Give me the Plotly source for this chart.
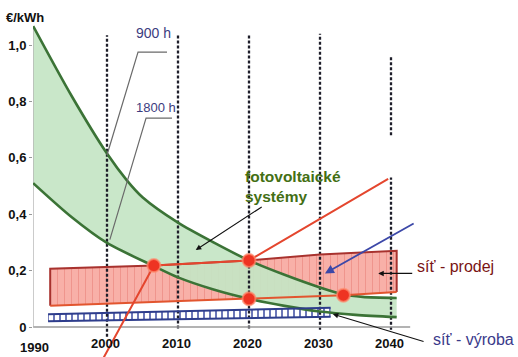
import plotly.graph_objects as go

# ---------------- data ----------------
years_900 = [1989.6, 1995, 2000, 2002.8, 2005, 2010, 2015, 2020, 2025, 2030, 2033.3, 2036, 2040.8]
cost_900 = [1.067, 0.82, 0.615, 0.52, 0.46, 0.37, 0.30, 0.236, 0.185, 0.14, 0.115, 0.107, 0.103]

years_1800 = [1989.6, 1995, 2000, 2006.6, 2010, 2015, 2020, 2025, 2030, 2035, 2040.8]
cost_1800 = [0.51, 0.39, 0.298, 0.216, 0.176, 0.133, 0.10, 0.075, 0.055, 0.043, 0.035]

sell_years_top = [1992.0, 2006.6, 2020, 2030, 2040.8]
sell_top = [0.207, 0.218, 0.236, 0.257, 0.27]
sell_years_bot = [1992.0, 2020, 2033.3, 2040.8]
sell_bot = [0.075, 0.10, 0.113, 0.124]

prod_years = [1991.7, 2020, 2031.5]
prod_top = [0.045, 0.062, 0.068]
prod_bot = [0.02, 0.032, 0.036]

parity_years = [1999.5, 2006.6, 2020, 2039.6]
parity_vals = [-0.11, 0.218, 0.236, 0.525]

dot_years = [2006.6, 2020, 2020, 2033.3]
dot_vals = [0.218, 0.236, 0.10, 0.113]

decade_years = [2000, 2010, 2020, 2030, 2040]
x_tick_vals = [1990, 2000, 2010, 2020, 2030, 2040]
x_tick_labels = ["1990", "2000", "2010", "2020", "2030", "2040"]
y_tick_vals = [0, 0.2, 0.4, 0.6, 0.8, 1.0]
y_tick_labels = ["0", "0,2", "0,4", "0,6", "0,8", "1,0"]

# ---------------- styling ----------------
FONT = "Liberation Sans, Arial, sans-serif"
PX_PER_YEAR = 7.1
X0 = 1990 - 3 / PX_PER_YEAR
X1 = X0 + 485 / PX_PER_YEAR
Y0 = -30 / 282
Y1 = 327 / 282

fig = go.Figure()

# red band (síť - prodej) fill
band_x = sell_years_top + sell_years_bot[::-1]
band_y = sell_top + sell_bot[::-1]
fig.add_trace(go.Scatter(
    x=band_x, y=band_y, mode="lines", fill="toself", line=dict(width=0),
    fillcolor="#f7aba3",
    fillpattern=dict(shape="|", bgcolor="#f8b0a8", fgcolor="#ef948c", size=7, solidity=0.14),
    hoverinfo="skip"))

# green band (photovoltaics)
fig.add_trace(go.Scatter(x=years_1800, y=cost_1800, mode="lines",
                         line=dict(width=0, shape="spline", smoothing=0.8), hoverinfo="skip"))
fig.add_trace(go.Scatter(x=years_900, y=cost_900, mode="lines", fill="tonexty",
                         fillcolor="rgba(196,229,196,0.92)",
                         line=dict(width=0, shape="spline", smoothing=0.8), hoverinfo="skip"))

# blue band (síť - výroba)
fig.add_trace(go.Scatter(
    x=prod_years + prod_years[::-1], y=prod_top + prod_bot[::-1], mode="lines",
    fill="toself", line=dict(width=0), fillcolor="white",
    fillpattern=dict(shape="|", bgcolor="white", fgcolor="#3a4aa0", size=6, solidity=0.25),
    hoverinfo="skip"))

# vertical dotted lines
v_top = [1.035, 1.035, 1.035, 1.04, 0.957]
v_bot = [-0.035, -0.005, -0.005, -0.01, -0.01]
vx, vy = [], []
for yr, t, b in zip(decade_years, v_top, v_bot):
    if yr == 2040:
        vx += [yr, yr, None, yr, yr, None]
        vy += [b, 0.53, None, 0.68, t, None]
    else:
        vx += [yr, yr, None]
        vy += [b, t, None]
fig.add_trace(go.Scatter(x=vx, y=vy, mode="lines",
                         line=dict(color="#1e1e2a", width=2.3, dash="3px,2px"), hoverinfo="skip"))

# axis lines
fig.add_trace(go.Scatter(x=[1989.6, 2042.7], y=[0, 0], mode="lines",
                         line=dict(color="#9a9a9a", width=1.5), hoverinfo="skip"))
fig.add_trace(go.Scatter(x=[1989.6, 1989.6], y=[0, 1.06], mode="lines",
                         line=dict(color="#b0b0b0", width=1), hoverinfo="skip"))

# green curves
fig.add_trace(go.Scatter(x=years_900, y=cost_900, mode="lines",
                         line=dict(color="#3b7336", width=2.6, shape="spline", smoothing=0.8)))
fig.add_trace(go.Scatter(x=years_1800, y=cost_1800, mode="lines",
                         line=dict(color="#3b7336", width=2.6, shape="spline", smoothing=0.8)))

# red band edges
fig.add_trace(go.Scatter(x=[sell_years_top[0]] + sell_years_top + [sell_years_bot[-1]],
                         y=[sell_bot[0]] + sell_top + [sell_bot[-1]], mode="lines",
                         line=dict(color="#a8322e", width=2), hoverinfo="skip"))
fig.add_trace(go.Scatter(x=sell_years_bot, y=sell_bot, mode="lines",
                         line=dict(color="#e2552f", width=2), hoverinfo="skip"))

# blue band edges
fig.add_trace(go.Scatter(x=prod_years, y=prod_top, mode="lines",
                         line=dict(color="#2e3d8c", width=2), hoverinfo="skip"))
fig.add_trace(go.Scatter(x=prod_years, y=prod_bot, mode="lines",
                         line=dict(color="#2e3d8c", width=2), hoverinfo="skip"))

# parity line
fig.add_trace(go.Scatter(x=parity_years, y=parity_vals, mode="lines",
                         line=dict(color="#e4462e", width=2), hoverinfo="skip"))

# leader lines for 900 h / 1800 h
lead_900_x = [2008.45, 2004.37, 2000.0]
lead_900_y = [0.975, 0.975, 0.61]
lead_1800_x = [2009.15, 2005.5, 2000.4]
lead_1800_y = [0.741, 0.741, 0.31]
fig.add_trace(go.Scatter(x=lead_900_x + [None] + lead_1800_x,
                         y=lead_900_y + [None] + lead_1800_y, mode="lines",
                         line=dict(color="#6a6a6a", width=1.2), hoverinfo="skip"))

# red dots
fig.add_trace(go.Scatter(x=dot_years, y=dot_vals, mode="markers",
                         marker=dict(size=13, color="#ee3322",
                                     line=dict(color="rgba(255,140,110,0.7)", width=2)),
                         hoverinfo="skip"))

ann = []
def txt(x, y, s, size, color, bold=False, xanchor="center", align="center", xshift=0,
        xref="x"):
    ann.append(dict(x=x, y=y, xref=xref, yref="y", text=s, showarrow=False,
                    xanchor=xanchor, yanchor="middle", align=align, xshift=xshift,
                    font=dict(family=FONT, size=size, color=color,
                              weight="bold" if bold else "normal")))

def arrow(hx, hy, tx, ty, color, width, head=2, size=1.0):
    ann.append(dict(x=hx, y=hy, ax=tx, ay=ty, xref="x", yref="y", axref="x", ayref="y",
                    text="", showarrow=True, arrowhead=head, arrowsize=size,
                    arrowwidth=width, arrowcolor=color, standoff=0, startstandoff=0))

# x tick labels (drawn below the zero line, as in the source figure)
for v, lab in zip(x_tick_vals, x_tick_labels):
    txt(v, -0.072 if v == 1990 else -0.058, lab, 13, "#111111", bold=True, xshift=-2)

# unit label sits left of the plot area -> paper x reference
txt(-0.0165, 1.099, "€/kWh", 13, "#111111", bold=True, xref="paper")
txt(2006.6, 1.043, "900 h", 14, "#3c3c80")
txt(2006.9, 0.78, "1800 h", 13, "#3c3c80")
txt(2019.15, 0.498, "fotovoltaické<br>systémy", 15.5, "#436f14", bold=True,
    xanchor="left", align="left")
txt(2049.1, 0.216, "síť - prodej", 16, "#7a1414")
txt(2051.6, -0.043, "síť - výroba", 16, "#3a3a8a")

arrow(2012.5, 0.273, 2022.0, 0.429, "#111111", 1.1)
arrow(2038.2, 0.19, 2043.2, 0.19, "#111111", 1.1)
arrow(2031.8, 0.046, 2044.8, -0.053, "#111111", 1.1)
arrow(2030.7, 0.19, 2043.4, 0.37, "#3c48a8", 1.8)

fig.update_layout(
    template="none",
    width=518, height=357, margin=dict(l=33, r=0, t=0, b=0, pad=0),
    paper_bgcolor="white", plot_bgcolor="white", showlegend=False,
    separators=",.", annotations=ann,
    xaxis=dict(range=[X0, X1], showgrid=False, zeroline=False, showline=False,
               showticklabels=False, ticks="", automargin=False),
    yaxis=dict(range=[Y0, Y1], showgrid=False, zeroline=False, showline=False,
               tickvals=y_tick_vals, ticktext=y_tick_labels, ticks="outside",
               ticklen=3, tickcolor="#999999", automargin=False,
               tickfont=dict(family=FONT, size=13, color="#111111", weight="bold")),
)

fig.write_html("out.html", config={"displayModeBar": False},
               post_script="document.body.style.margin='0';document.body.style.overflow='hidden';")
